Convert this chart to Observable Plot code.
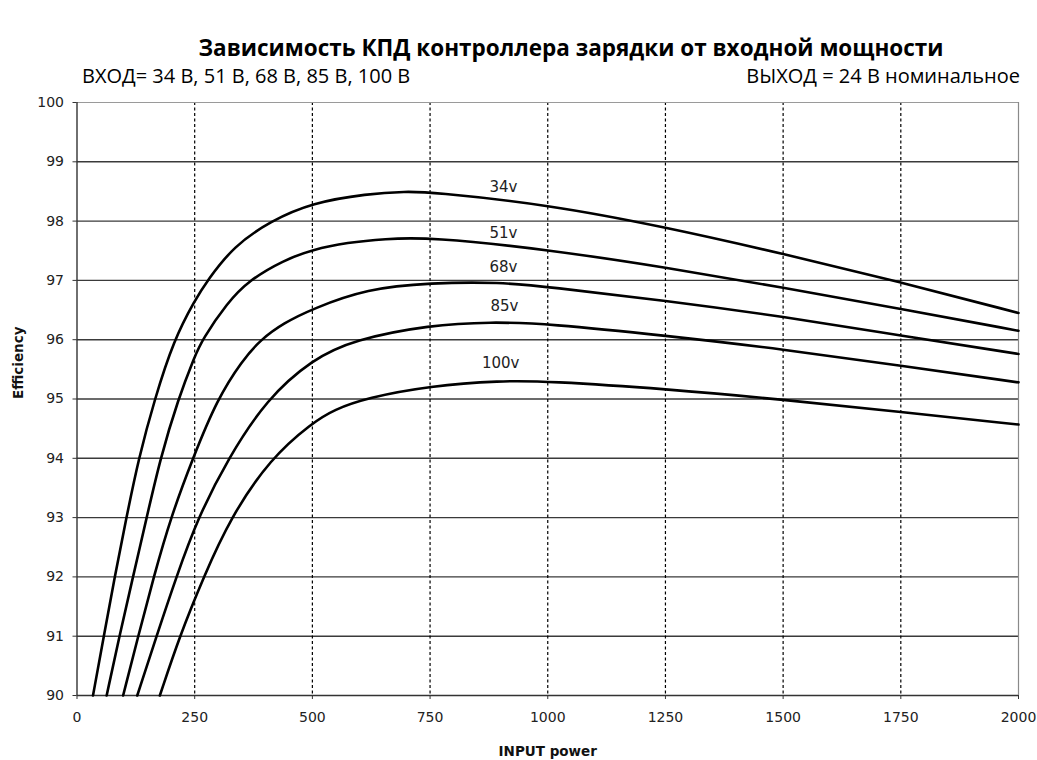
<!DOCTYPE html>
<html>
<head>
<meta charset="utf-8">
<script src="https://cdn.jsdelivr.net/npm/d3@7"></script>
<script src="https://cdn.jsdelivr.net/npm/@observablehq/plot@0.6"></script>
<style>
  html, body { margin: 0; padding: 0; background: #fff; }
  #wrap { position: relative; width: 1037px; height: 760px; overflow: hidden; background: #fff; }
  .t { position: absolute; white-space: nowrap; color: #000; font-family: "Open Sans", sans-serif; line-height: 1; }
  #title { top: 37px; left: 0; width: 1142px; text-align: center; font-size: 22.5px; font-weight: 700; }
  #sub1 { top: 66px; left: 82px; font-size: 20px; }
  #sub2 { top: 66px; right: 17px; font-size: 20px; }
  #chart { position: absolute; top: 90px; left: 0; }
</style>
</head>
<body>
<div id="wrap">
  <div class="t" id="title">Зависимость КПД контроллера зарядки от входной мощности</div>
  <div class="t" id="sub1">ВХОД= 34 В, 51 В, 68 В, 85 В, 100 В</div>
  <div class="t" id="sub2">ВЫХОД = 24 В номинальное</div>
  <div id="chart"></div>
</div>
<script>
// ---- Data ----
const xTicks = [0, 250, 500, 750, 1000, 1250, 1500, 1750, 2000];
const yTicks = [90, 91, 92, 93, 94, 95, 96, 97, 98, 99, 100];

const seriesNames = ["34v", "51v", "68v", "85v", "100v"];

const x34 = [34, 57, 80, 105, 131, 165, 206, 250, 277, 333, 411, 500, 616, 700, 750, 1000, 1250, 1500, 1750, 2000];
const y34 = [90, 91, 92, 93, 94, 95, 96, 96.66, 97, 97.58, 98, 98.31, 98.46, 98.5, 98.49, 98.28, 97.9, 97.45, 96.97, 96.45];

const x51 = [63, 90, 119, 148, 177, 215, 250, 266, 319, 365, 439, 500, 575, 652, 750, 1000, 1250, 1500, 1750, 2000];
const y51 = [90, 91, 92, 93, 94, 95, 95.72, 96, 96.62, 97, 97.34, 97.52, 97.64, 97.70, 97.73, 97.52, 97.22, 96.88, 96.52, 96.15];

const x68 = [98, 130, 163, 199, 246, 298, 351, 390, 439, 500, 616, 750, 900, 1000, 1250, 1500, 1750, 2000];
const y68 = [90, 91, 92, 93, 94, 95, 95.65, 96, 96.28, 96.52, 96.86, 96.96, 96.97, 96.89, 96.66, 96.39, 96.07, 95.76];

const x85 = [128, 169, 211, 257, 321, 403, 500, 588, 750, 880, 1000, 1250, 1500, 1750, 2000];
const y85 = [90, 91, 92, 93, 94, 95, 95.67, 96, 96.25, 96.30, 96.27, 96.07, 95.84, 95.56, 95.28];

const x100 = [176, 218, 269, 326, 411, 500, 546, 616, 750, 900, 1000, 1250, 1500, 1750, 2000];
const y100 = [90, 91, 92, 93, 94, 94.6, 94.82, 95.02, 95.22, 95.31, 95.30, 95.17, 94.99, 94.78, 94.57];

// curve label anchor points (data coordinates)
const labelX = [906, 906, 906, 908, 900];
const labelY = [98.57, 97.79, 97.23, 96.56, 95.60];

const xLabel = "INPUT power";
const yLabel = "Efficiency";

// ---- Build table ----
const xs = [x34, x51, x68, x85, x100];
const ys = [y34, y51, y68, y85, y100];
const rows = [];
seriesNames.forEach((name, i) => {
  xs[i].forEach((x, j) => rows.push({series: name, power: x, eff: ys[i][j]}));
});
const labels = seriesNames.map((name, i) => ({name, x: labelX[i], y: labelY[i]}));

const innerX = xTicks.filter(d => d > 0 && d < 2000);
const innerY = yTicks.filter(d => d > 90 && d < 100);

const chart = Plot.plot({
  width: 1037,
  height: 670,
  marginTop: 12,
  marginBottom: 65,
  marginLeft: 76.5,
  marginRight: 19,
  style: {fontFamily: "'DejaVu Sans', sans-serif", fontSize: "14px", color: "#222", background: "#fff", overflow: "visible"},
  x: {domain: [0, 2000], label: null},
  y: {domain: [90, 100], label: null},
  marks: [
    Plot.ruleY(innerY, {stroke: "#3a3a3a", strokeWidth: 1.4}),
    Plot.ruleX(innerX, {stroke: "#000", strokeWidth: 1.2, strokeDasharray: "3,2.5"}),
    Plot.ruleY([100], {stroke: "#9a9a9a", strokeWidth: 1.2}),
    Plot.ruleX([2000], {stroke: "#8a8a8a", strokeWidth: 1.2}),
    Plot.ruleY([90], {stroke: "#333", strokeWidth: 1.4}),
    Plot.ruleX([0], {stroke: "#333", strokeWidth: 1.4}),
    Plot.axisX({ticks: xTicks, tickSize: 4, tickPadding: 13, tickFormat: d => String(d), stroke: "#333", fill: "#222", label: null}),
    Plot.axisY({ticks: yTicks, tickSize: 4, tickPadding: 9, tickFormat: d => String(d), stroke: "#333", fill: "#222", label: null}),
    Plot.line(rows, {x: "power", y: "eff", z: "series", stroke: "#000", strokeWidth: 2.6, curve: "basis"}),
    Plot.text(labels, {x: "x", y: "y", text: "name", fill: "#222", fontSize: 15}),
    Plot.text([xLabel], {frameAnchor: "bottom", dy: 56, text: d => d, fontWeight: "bold", fontSize: 13.5, fill: "#111", lineAnchor: "middle"}),
    Plot.text([yLabel], {frameAnchor: "left", dx: -58, rotate: -90, text: d => d, fontWeight: "bold", fontSize: 13.5, fill: "#111"})
  ]
});
document.getElementById("chart").appendChild(chart);
</script>
</body>
</html>
